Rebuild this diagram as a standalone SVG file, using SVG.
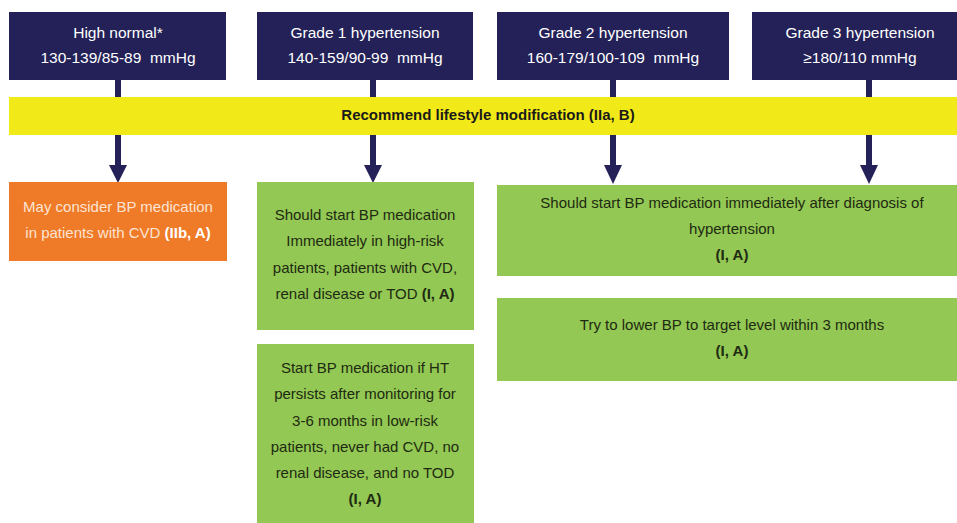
<svg xmlns="http://www.w3.org/2000/svg" width="957" height="523" viewBox="0 0 957 523">
<defs>
<style>
.hdr{fill:#232157}
.grn{fill:#92C853}
.t{font-family:"Liberation Sans","DejaVu Sans",sans-serif;font-size:15px;text-anchor:middle;white-space:pre}
.h{font-size:15.5px}
.w{fill:#ffffff}
.d{fill:#1f2a12}
.o{fill:#FCE4D3}
.b{font-weight:bold}
.ln{stroke:#232157;stroke-width:6;fill:none}
.ah{fill:#232157}
</style>
</defs>
<rect width="957" height="523" fill="#ffffff"/>
<g id="connectors">
<line class="ln" x1="118" y1="80" x2="118" y2="97"/>
<line class="ln" x1="373" y1="80" x2="373" y2="97"/>
<line class="ln" x1="613" y1="80" x2="613" y2="97"/>
<line class="ln" x1="869" y1="80" x2="869" y2="97"/>
<line class="ln" x1="118" y1="135" x2="118" y2="168"/>
<line class="ln" x1="373" y1="135" x2="373" y2="168"/>
<line class="ln" x1="613" y1="135" x2="613" y2="168"/>
<line class="ln" x1="869" y1="135" x2="869" y2="168"/>
<polygon class="ah" points="109,165 127,165 118,183"/>
<polygon class="ah" points="364,165 382,165 373,183"/>
<polygon class="ah" points="604,165 622,165 613,184"/>
<polygon class="ah" points="860,165 878,165 869,184"/>
</g>
<g id="high-normal">
<rect class="hdr" x="9" y="12" width="217" height="68"/>
<text class="t h w" x="118" y="38">High normal*</text>
<text class="t h w" x="118" y="63">130-139/85-89  mmHg</text>
</g>
<g id="grade1">
<rect class="hdr" x="257" y="12" width="216" height="68"/>
<text class="t h w" x="365" y="38">Grade 1 hypertension</text>
<text class="t h w" x="365" y="63">140-159/90-99  mmHg</text>
</g>
<g id="grade2">
<rect class="hdr" x="497" y="12" width="232" height="68"/>
<text class="t h w" x="613" y="38">Grade 2 hypertension</text>
<text class="t h w" x="613" y="63">160-179/100-109  mmHg</text>
</g>
<g id="grade3">
<rect class="hdr" x="752" y="12" width="205" height="68"/>
<text class="t h w" x="860" y="38">Grade 3 hypertension</text>
<text class="t h w" x="860" y="63">≥180/110 mmHg</text>
</g>
<g id="lifestyle">
<rect x="9" y="97" width="948" height="38" fill="#F2EA18"/>
<text class="t b" x="488" y="120" fill="#1a1a1a" font-size="13.8">Recommend lifestyle modification (IIa, B)</text>
</g>
<g id="may-consider">
<rect x="9" y="182" width="218" height="79" fill="#EF7A27"/>
<text class="t o" x="118" y="212">May consider BP medication</text>
<text class="t o" x="118" y="238">in patients with CVD <tspan class="b" fill="#ffffff">(IIb, A)</tspan></text>
</g>
<g id="should-start-high-risk">
<rect class="grn" x="257" y="182" width="217" height="148"/>
<text class="t d" x="365" y="220">Should start BP medication</text>
<text class="t d" x="365" y="246">Immediately in high-risk</text>
<text class="t d" x="365" y="273">patients, patients with CVD,</text>
<text class="t d" x="365" y="299">renal disease or TOD <tspan class="b">(I, A)</tspan></text>
</g>
<g id="start-low-risk">
<rect class="grn" x="257" y="344" width="217" height="179"/>
<text class="t d" x="365" y="373">Start BP medication if HT</text>
<text class="t d" x="365" y="399">persists after monitoring for</text>
<text class="t d" x="365" y="426">3-6 months in low-risk</text>
<text class="t d" x="365" y="452">patients, never had CVD, no</text>
<text class="t d" x="365" y="478">renal disease, and no TOD</text>
<text class="t d b" x="365" y="504">(I, A)</text>
</g>
<g id="should-start-immediately">
<rect class="grn" x="497" y="185" width="460" height="91"/>
<text class="t d" x="732" y="208">Should start BP medication immediately after diagnosis of</text>
<text class="t d" x="732" y="234">hypertension</text>
<text class="t d b" x="732" y="260">(I, A)</text>
</g>
<g id="lower-bp">
<rect class="grn" x="497" y="298" width="460" height="83"/>
<text class="t d" x="732" y="330">Try to lower BP to target level within 3 months</text>
<text class="t d b" x="732" y="356">(I, A)</text>
</g>
</svg>
